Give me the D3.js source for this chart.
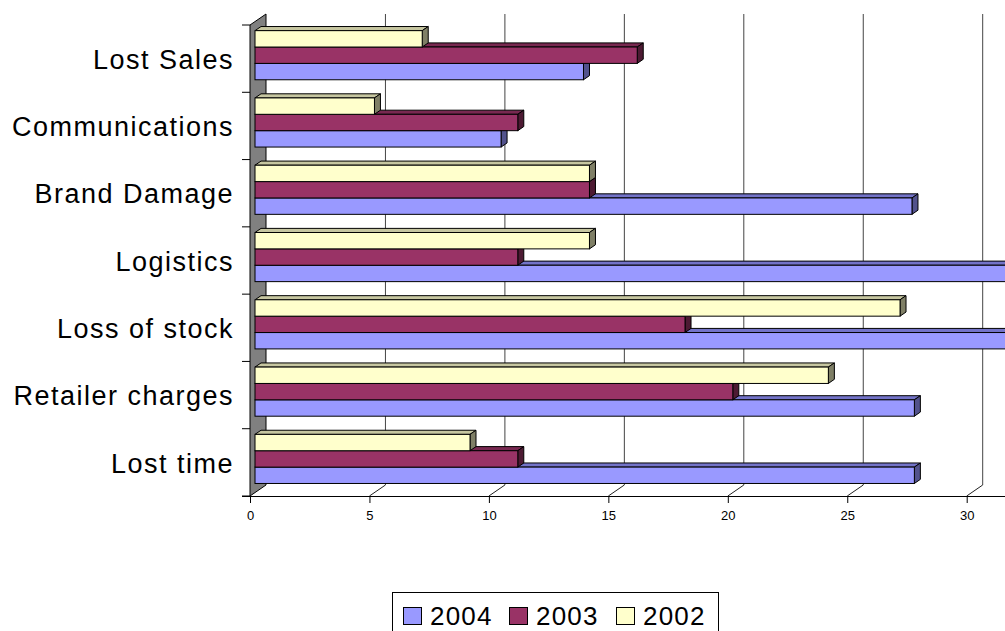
<!DOCTYPE html>
<html>
<head>
<meta charset="utf-8">
<script src="https://cdn.jsdelivr.net/npm/d3@7"></script>
<style>
  body { margin: 0; background: #fff; }
  svg { display: block; font-family: "Liberation Sans", Arial, sans-serif; }
</style>
</head>
<body>
<svg id="chart" width="1005" height="631"></svg>
<script>
// categories top -> bottom, like the picture
const categories = ['Lost Sales', 'Communications', 'Brand Damage', 'Logistics', 'Loss of stock', 'Retailer charges', 'Lost time']
const seriesNames = ['2004', '2003', '2002']
const values2004 = [13.75, 10.3, 27.5, 33, 33, 27.6, 27.6]
const values2003 = [16, 11, 14, 11, 18, 20, 11]
const values2002 = [7, 5, 14, 14, 27, 24, 9]
const xTicks = [0, 5, 10, 15, 20, 25, 30]

// front face, top face, side face
const colors = {
  '2004': ['#9999ff', '#7373c8', '#52528c'],
  '2003': ['#993366', '#782850', '#4d1a33'],
  '2002': ['#ffffcc', '#c6c6a0', '#7f7f66']
}

const seriesValues = { '2004': values2004, '2003': values2003, '2002': values2002 }

const svg = d3.select('#chart')

// the 3d depth of the whole plot and of a single bar
const depth = { dx: 16, dy: -11 }
const barFrom = 5 / 16, barTo = 11 / 16

const xScale = d3.scaleLinear().domain([0, 35]).range([250, 250 + 35 * 23.89])
const yScale = d3.scaleBand().domain(categories).range([25, 496])
const groupH = yScale.bandwidth() * 0.73
const subScale = d3.scaleBand().domain(['2002', '2003', '2004']).range([0, groupH])
const groupOff = (yScale.bandwidth() - groupH) / 2

const x0 = xScale(0), yTop = 25, yBot = 496

// back wall gridlines
svg.append('g')
  .selectAll('line')
  .data(xTicks.filter(d => d > 0))
  .join('line')
    .attr('x1', d => xScale(d) + depth.dx)
    .attr('x2', d => xScale(d) + depth.dx)
    .attr('y1', yTop + depth.dy)
    .attr('y2', yBot + depth.dy)
    .attr('stroke', '#444')
    .attr('stroke-width', 1)

// floor diagonals
svg.append('g')
  .selectAll('line')
  .data(xTicks.filter(d => d > 0))
  .join('line')
    .attr('x1', d => xScale(d))
    .attr('x2', d => xScale(d) + depth.dx)
    .attr('y1', yBot)
    .attr('y2', yBot + depth.dy)
    .attr('stroke', '#222')

// gray side wall
svg.append('polygon')
  .attr('points', [[x0, yTop], [x0 + depth.dx, yTop + depth.dy], [x0 + depth.dx, yBot + depth.dy], [x0, yBot]].join(' '))
  .attr('fill', '#808080')
  .attr('stroke', '#000')
  .attr('stroke-width', 1)

// bars - draw 2004 first so the upper bars hide its top face
const bdx = depth.dx * (barTo - barFrom), bdy = depth.dy * (barTo - barFrom)
const offX = depth.dx * barFrom, offY = depth.dy * barFrom

const barData = []
categories.forEach((c, i) => {
  seriesNames.forEach(s => barData.push({ cat: c, series: s, value: seriesValues[s][i] }))
})

const bars = svg.append('g').selectAll('g')
  .data(barData)
  .join('g')

bars.each(function (d) {
  const g = d3.select(this)
  const xa = xScale(0) + offX
  const xb = xScale(d.value) + offX
  const ya = yScale(d.cat) + groupOff + subScale(d.series) + offY
  const yb = ya + subScale.bandwidth()
  const col = colors[d.series]
  g.append('polygon')
    .attr('points', [[xa, ya], [xa + bdx, ya + bdy], [xb + bdx, ya + bdy], [xb, ya]].join(' '))
    .attr('fill', col[1]).attr('stroke', '#000').attr('stroke-width', 1)
  g.append('polygon')
    .attr('points', [[xb, ya], [xb + bdx, ya + bdy], [xb + bdx, yb + bdy], [xb, yb]].join(' '))
    .attr('fill', col[2]).attr('stroke', '#000').attr('stroke-width', 1)
  g.append('rect')
    .attr('x', xa).attr('y', ya)
    .attr('width', xb - xa).attr('height', yb - ya)
    .attr('fill', col[0]).attr('stroke', '#000').attr('stroke-width', 1)
})

// bottom axis (front edge of the floor)
const xAxis = d3.axisBottom(xScale).tickValues(xTicks).tickSize(7).tickPadding(8).tickSizeOuter(0)
const xAxisGroup = svg.append('g')
  .attr('transform', `translate(0, ${yBot})`)
  .call(xAxis)
xAxisGroup.select('.domain').attr('d', `M${x0 - 8},0.5H1005`).attr('stroke', '#000')
xAxisGroup.selectAll('.tick line').attr('stroke', '#000')
xAxisGroup.selectAll('text')
  .attr('font-size', 13)
  .attr('font-family', '"Liberation Sans", Arial, sans-serif')
  .attr('fill', '#000')

// category ticks sit on the band edges
const edges = categories.map(c => yScale(c)).concat([yBot])
svg.append('g')
  .selectAll('line')
  .data(edges)
  .join('line')
    .attr('x1', x0 - 8).attr('x2', x0)
    .attr('y1', d => d).attr('y2', d => d)
    .attr('stroke', '#000')

// category labels
const yAxis = d3.axisLeft(yScale).tickSize(0).tickPadding(16)
const yAxisGroup = svg.append('g')
  .attr('transform', `translate(${x0}, 0)`)
  .call(yAxis)
yAxisGroup.select('.domain').remove()
yAxisGroup.selectAll('text')
  .attr('font-size', 27)
  .attr('letter-spacing', 1.5)
  .attr('font-family', '"Liberation Sans", Arial, sans-serif')
  .attr('fill', '#000')
  .attr('dy', '0.38em')

// legend
const legend = svg.append('g')
legend.append('rect')
  .attr('x', 392.5).attr('y', 592.5).attr('width', 326).attr('height', 50)
  .attr('fill', '#fff').attr('stroke', '#000')
const legendX = [403, 509, 616]
seriesNames.forEach((s, i) => {
  legend.append('rect')
    .attr('x', legendX[i] + 0.5).attr('y', 607.5).attr('width', 18).attr('height', 17)
    .attr('fill', colors[s][0]).attr('stroke', '#000')
  legend.append('text')
    .attr('x', legendX[i] + 27).attr('y', 625)
    .attr('font-size', 26).attr('letter-spacing', 1.2)
    .text(s)
})
</script>
</body>
</html>
